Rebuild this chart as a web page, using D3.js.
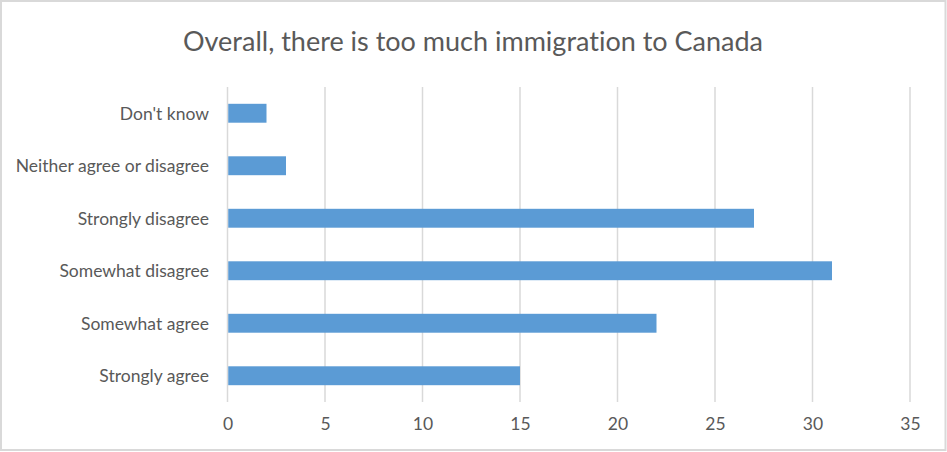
<!DOCTYPE html>
<html>
<head>
<meta charset="utf-8">
<script src="https://cdn.jsdelivr.net/npm/d3@7"></script>
<style>
  html, body { margin: 0; padding: 0; background: #fff; }
  svg { display: block; }
  text { font-family: Lato, "Open Sans", sans-serif; fill: #595959; font-variant-ligatures: none; }
</style>
</head>
<body>
<svg id="chart" width="947" height="452"></svg>
<script>
const title = "Overall, there is too much immigration to Canada";
const categories = ["Don't know", "Neither agree or disagree", "Strongly disagree", "Somewhat disagree", "Somewhat agree", "Strongly agree"];
const values = [2, 3, 27, 31, 22, 15];
const tickValues = [0, 5, 10, 15, 20, 25, 30, 35];

const svg = d3.select("#chart");
const W = 947, H = 452;

svg.append("rect").attr("x", 1).attr("y", 1).attr("width", W - 2.5).attr("height", H - 3)
  .attr("fill", "#fff").attr("stroke", "#d9d9d9").attr("stroke-width", 2);

const x = d3.scaleLinear().domain([0, 35]).range([227.5, 910]);
const y = d3.scaleBand().domain(categories).range([87, 402]).paddingInner(0.64).paddingOuter(0.32);

// gridlines
svg.append("g").selectAll("line").data(tickValues).join("line")
  .attr("x1", d => x(d)).attr("x2", d => x(d))
  .attr("y1", 87).attr("y2", 402)
  .attr("stroke", "#d9d9d9").attr("stroke-width", 1.5);

// bars
svg.append("g").selectAll("rect").data(categories).join("rect")
  .attr("x", x(0) + 0.75)
  .attr("y", d => y(d))
  .attr("width", (d, i) => x(values[i]) - x(0) - 0.75)
  .attr("height", y.bandwidth())
  .attr("fill", "#5b9bd5");

// x axis labels
const xAxis = d3.axisBottom(x).tickValues(tickValues).tickSize(0).tickPadding(0);
const gx = svg.append("g").attr("transform", "translate(0,418)").call(xAxis);
gx.select(".domain").remove();
gx.selectAll("text").attr("font-size", 17.5).attr("fill", "#595959")
  .style("font-family", "Lato, 'Open Sans', sans-serif");

// y axis labels
const yAxis = d3.axisLeft(y).tickSize(0).tickPadding(0);
const gy = svg.append("g").attr("transform", "translate(209,1)").call(yAxis);
gy.select(".domain").remove();
gy.selectAll("text").attr("font-size", 17.5).attr("fill", "#595959")
  .style("font-family", "Lato, 'Open Sans', sans-serif");

// title
svg.append("text").attr("x", 473).attr("y", 51).attr("text-anchor", "middle")
  .attr("font-size", 27).attr("fill", "#595959").text(title);
</script>
</body>
</html>
